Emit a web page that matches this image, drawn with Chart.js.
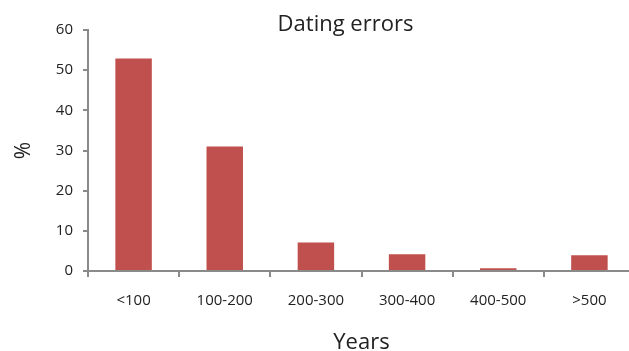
<!DOCTYPE html>
<html>
<head>
<meta charset="utf-8">
<script src="https://cdn.jsdelivr.net/npm/chart.js@4/dist/chart.umd.min.js"></script>
<style>
  html, body { margin: 0; padding: 0; background: #fff; overflow: hidden; }
  #wrap { width: 691px; height: 351px; }
</style>
</head>
<body>
<div id="wrap"><canvas id="c" width="691" height="351"></canvas></div>
<script>
// Share of samples per dating-error band (years), in percent
const categories = ['<100', '100-200', '200-300', '300-400', '400-500', '>500'];
const percentValues = [52.9, 31.0, 7.1, 4.2, 0.7, 3.9];
const yTickValues = [0, 10, 20, 30, 40, 50, 60];
const chartTitle = 'Dating errors';

const axisGray = '#8a8a8a';
const textColor = '#222';
const fontFamily = '"Open Sans", "DejaVu Sans", sans-serif';

// Heading centred over the whole figure (canvas is wider than the visible page)
const figureTitle = {
  id: 'figureTitle',
  afterDraw(chart) {
    const ctx = chart.ctx;
    ctx.save();
    ctx.font = '22px ' + fontFamily;
    ctx.fillStyle = textColor;
    ctx.textAlign = 'center';
    ctx.textBaseline = 'alphabetic';
    ctx.fillText(chartTitle, chart.width / 2, 31);
    ctx.restore();
  }
};

new Chart(document.getElementById('c'), {
  type: 'bar',
  data: {
    labels: categories,
    datasets: [{
      data: percentValues,
      backgroundColor: '#C0504D',
      borderWidth: 0,
      barPercentage: 0.4,
      categoryPercentage: 1.0
    }]
  },
  plugins: [figureTitle],
  options: {
    responsive: false,
    animation: false,
    events: [],
    layout: { padding: { top: 30, right: 56, left: 0, bottom: 0 } },
    plugins: {
      legend: { display: false },
      tooltip: { enabled: false },
      title: { display: false }
    },
    scales: {
      x: {
        offset: true,
        border: { display: true, color: axisGray, width: 2 },
        grid: {
          offset: true,
          drawOnChartArea: false,
          drawTicks: true,
          tickLength: 6,
          color: axisGray,
          lineWidth: 2
        },
        ticks: {
          color: textColor,
          font: { family: fontFamily, size: 15 },
          padding: 15,
          maxRotation: 0,
          autoSkip: false
        },
        title: {
          display: true,
          text: 'Years',
          color: textColor,
          font: { family: fontFamily, size: 22 },
          padding: { top: 0, bottom: -5 }
        },
        afterFit(scale) { scale.height = 80; }
      },
      y: {
        min: 0,
        max: 60,
        afterBuildTicks(scale) {
          scale.ticks = yTickValues.map(v => ({ value: v }));
        },
        border: { display: true, color: axisGray, width: 2 },
        grid: {
          drawOnChartArea: false,
          drawTicks: true,
          tickLength: 5,
          color: axisGray,
          lineWidth: 2
        },
        ticks: {
          color: textColor,
          font: { family: fontFamily, size: 15 },
          padding: 10
        },
        title: {
          display: true,
          text: '%',
          color: textColor,
          font: { family: fontFamily, size: 21 },
          padding: { top: 11, bottom: 0 }
        },
        afterFit(scale) { scale.width = 88; }
      }
    }
  }
});
</script>
</body>
</html>
